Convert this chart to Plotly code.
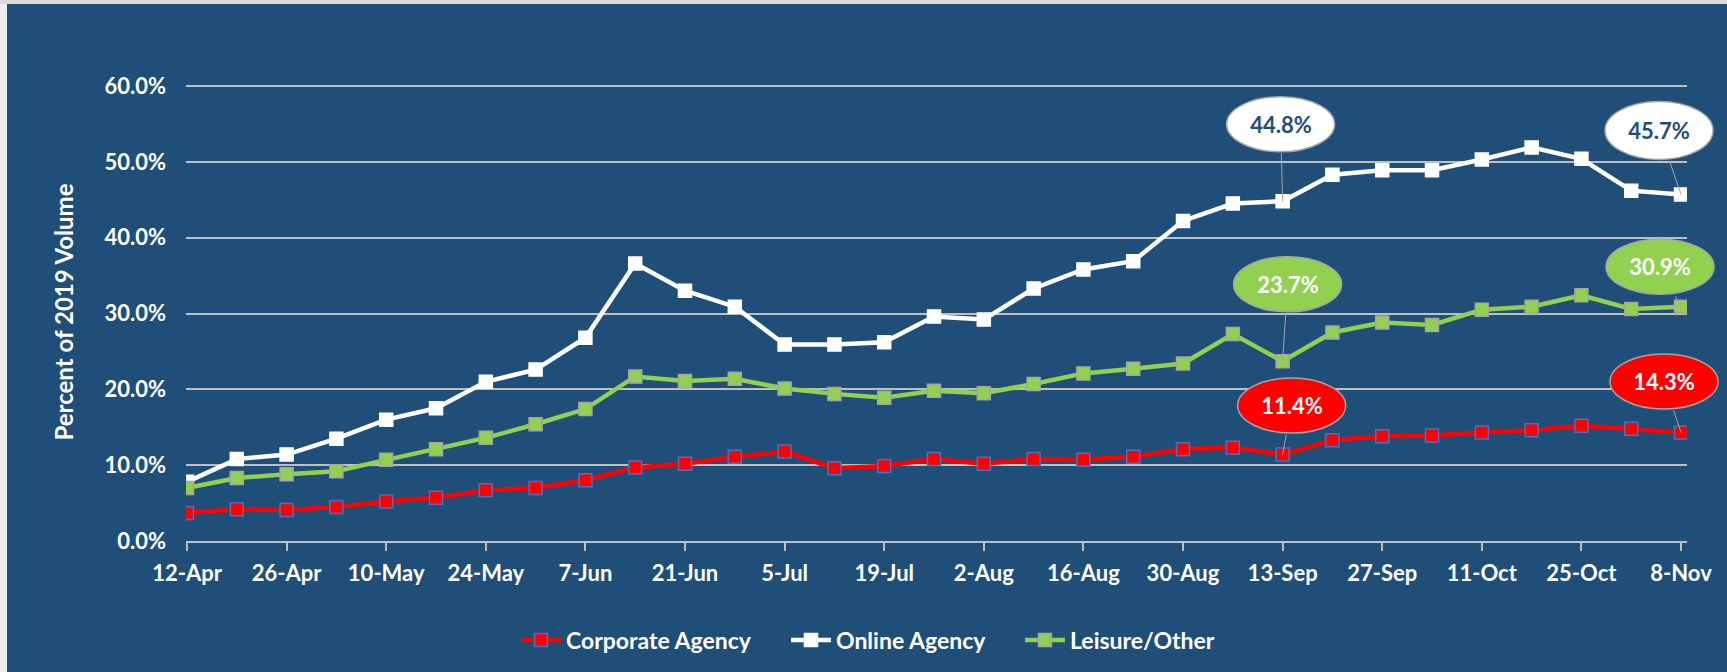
import plotly.graph_objects as go

weeks = ["12-Apr", "19-Apr", "26-Apr", "3-May", "10-May", "17-May", "24-May", "31-May",
         "7-Jun", "14-Jun", "21-Jun", "28-Jun", "5-Jul", "12-Jul", "19-Jul", "26-Jul",
         "2-Aug", "9-Aug", "16-Aug", "23-Aug", "30-Aug", "6-Sep", "13-Sep", "20-Sep",
         "27-Sep", "4-Oct", "11-Oct", "18-Oct", "25-Oct", "1-Nov", "8-Nov"]

corporate = [3.7, 4.2, 4.1, 4.5, 5.2, 5.7, 6.7, 7.0, 8.0, 9.7, 10.2, 11.1, 11.8, 9.6, 9.9, 10.8,
             10.2, 10.8, 10.7, 11.1, 12.1, 12.3, 11.4, 13.3, 13.8, 13.9, 14.3, 14.6, 15.2, 14.8, 14.3]
online = [7.8, 10.8, 11.4, 13.5, 16.0, 17.5, 21.0, 22.6, 26.8, 36.6, 33.0, 30.9, 25.9, 25.9, 26.2, 29.6,
          29.2, 33.3, 35.8, 36.9, 42.2, 44.5, 44.8, 48.3, 48.9, 48.9, 50.3, 51.9, 50.4, 46.2, 45.7]
leisure = [7.0, 8.3, 8.8, 9.2, 10.7, 12.1, 13.6, 15.4, 17.4, 21.7, 21.1, 21.4, 20.1, 19.4, 18.9, 19.8,
           19.5, 20.7, 22.1, 22.7, 23.4, 27.3, 23.7, 27.5, 28.8, 28.5, 30.5, 30.9, 32.4, 30.6, 30.9]

tick_labels = weeks[::2]

BG = "#1F4E79"
GRID = "#BFBFBF"
FONT = "Lato"

W, H = 1727, 672
ML, MR, MT, MB = 186, 40, 83, 131
XR = [-0.02, 30.12]
YR = [0, 0.6 * 458 / 455]

fig = go.Figure()

series = [
    ("Corporate Agency", corporate, "#FF0000", "#FF0000", "#4472C4", "legend", 516),
    ("Online Agency", online, "#FFFFFF", "#FFFFFF", "#FFFFFF", "legend2", 786),
    ("Leisure/Other", leisure, "#92D050", "#92D050", "#A5A5A5", "legend3", 1020),
]
legend_layouts = {}
for name, vals, lc, mc, mb, lg, lx in series:
    fig.add_trace(go.Scatter(
        x=weeks, y=[v / 100 for v in vals], name=name, mode="lines+markers",
        line=dict(color=lc, width=4.5),
        marker=dict(symbol="square", size=13, color=mc, line=dict(color=mb, width=1.5)),
        hoverinfo="skip", legend=lg,
    ))
    legend_layouts[lg] = dict(orientation="h", xref="container", yref="container",
                              x=lx / W, y=1 - 640 / H, xanchor="left", yanchor="middle",
                              bgcolor="rgba(0,0,0,0)", itemwidth=40,
                              font=dict(family=FONT, size=23, color="#FFFFFF", weight="bold"))

# callouts: (series values, index, fill, border, text colour, dx, dy, w, h)
callouts = [
    (online, 22, "#FFFFFF", "#A6A6A6", BG, -2, -77, 108, 55),
    (online, 30, "#FFFFFF", "#A6A6A6", BG, -22, -64, 108, 58),
    (leisure, 22, "#92D050", "#A6A6A6", "#FFFFFF", 5, -77, 108, 55),
    (leisure, 30, "#92D050", "#A6A6A6", "#FFFFFF", -21, -40, 108, 55),
    (corporate, 22, "#FF0000", "#A6A6A6", "#FFFFFF", 9, -49, 108, 55),
    (corporate, 30, "#FF0000", "#A6A6A6", "#FFFFFF", -17, -51, 108, 55),
]
shapes = []
annotations = []
for vals, i, fill, border, tc, dx, dy, w, h in callouts:
    v = vals[i] / 100
    px = (i - XR[0]) / (XR[1] - XR[0])
    py = (v - YR[0]) / (YR[1] - YR[0])
    shapes.append(dict(
        type="circle", xref="paper", yref="paper", xsizemode="pixel", ysizemode="pixel",
        xanchor=px, yanchor=py, x0=dx - w / 2, x1=dx + w / 2, y0=-dy - h / 2, y1=-dy + h / 2,
        fillcolor=fill, line=dict(color=border, width=1.5), layer="above",
    ))
    annotations.append(dict(
        x=weeks[i], y=v, xref="x", yref="y", ax=dx, ay=dy, axref="pixel", ayref="pixel",
        text=f"{vals[i]:.1f}%", showarrow=True, arrowhead=0, arrowwidth=1, arrowcolor="#A6A6A6",
        width=w, height=h, standoff=0, startstandoff=0,
        font=dict(family=FONT, size=22, color=tc, weight="bold"),
    ))

# thin light frame at left and top edge
shapes.append(dict(type="rect", xref="paper", yref="paper", xsizemode="pixel", ysizemode="pixel",
                   xanchor=0, yanchor=0, x0=-ML, x1=-ML + 7, y0=-MB, y1=H - MB,
                   fillcolor="#EDEDED", line=dict(width=0), layer="below"))
shapes.append(dict(type="rect", xref="paper", yref="paper", xsizemode="pixel", ysizemode="pixel",
                   xanchor=0, yanchor=1, x0=-ML, x1=W - ML, y0=MT - 4, y1=MT,
                   fillcolor="#DADADA", line=dict(width=0), layer="below"))

fig.update_layout(
    width=W, height=H,
    margin=dict(l=ML, r=MR, t=MT, b=MB, autoexpand=False),
    paper_bgcolor=BG, plot_bgcolor=BG,
    font=dict(family=FONT, size=22, color="#FFFFFF", weight="bold"),
    showlegend=True,
    xaxis=dict(type="category", range=XR, tickmode="array", tickvals=tick_labels, ticktext=tick_labels,
               showgrid=False, showline=True, linecolor=GRID, linewidth=2,
               ticks="outside", ticklen=8, tickwidth=1.5, tickcolor=GRID, ticklabelstandoff=4,
               tickfont=dict(family=FONT, size=22, color="#FFFFFF", weight="bold"),
               fixedrange=True, zeroline=False),
    yaxis=dict(range=YR, dtick=0.1, tickformat=".1%", showgrid=True, gridcolor=GRID, gridwidth=1.5,
               zeroline=False, showline=False, ticks="", ticklabelstandoff=19,
               tickfont=dict(family=FONT, size=22, color="#FFFFFF", weight="bold"),
               title=dict(text="Percent of 2019 Volume", standoff=24,
                          font=dict(family=FONT, size=24, color="#FFFFFF", weight="bold")),
               fixedrange=True),
    shapes=shapes, annotations=annotations,
    **legend_layouts,
)

fig.write_html("out.html", config={"displayModeBar": False},
               post_script="document.body.style.margin='0';")
